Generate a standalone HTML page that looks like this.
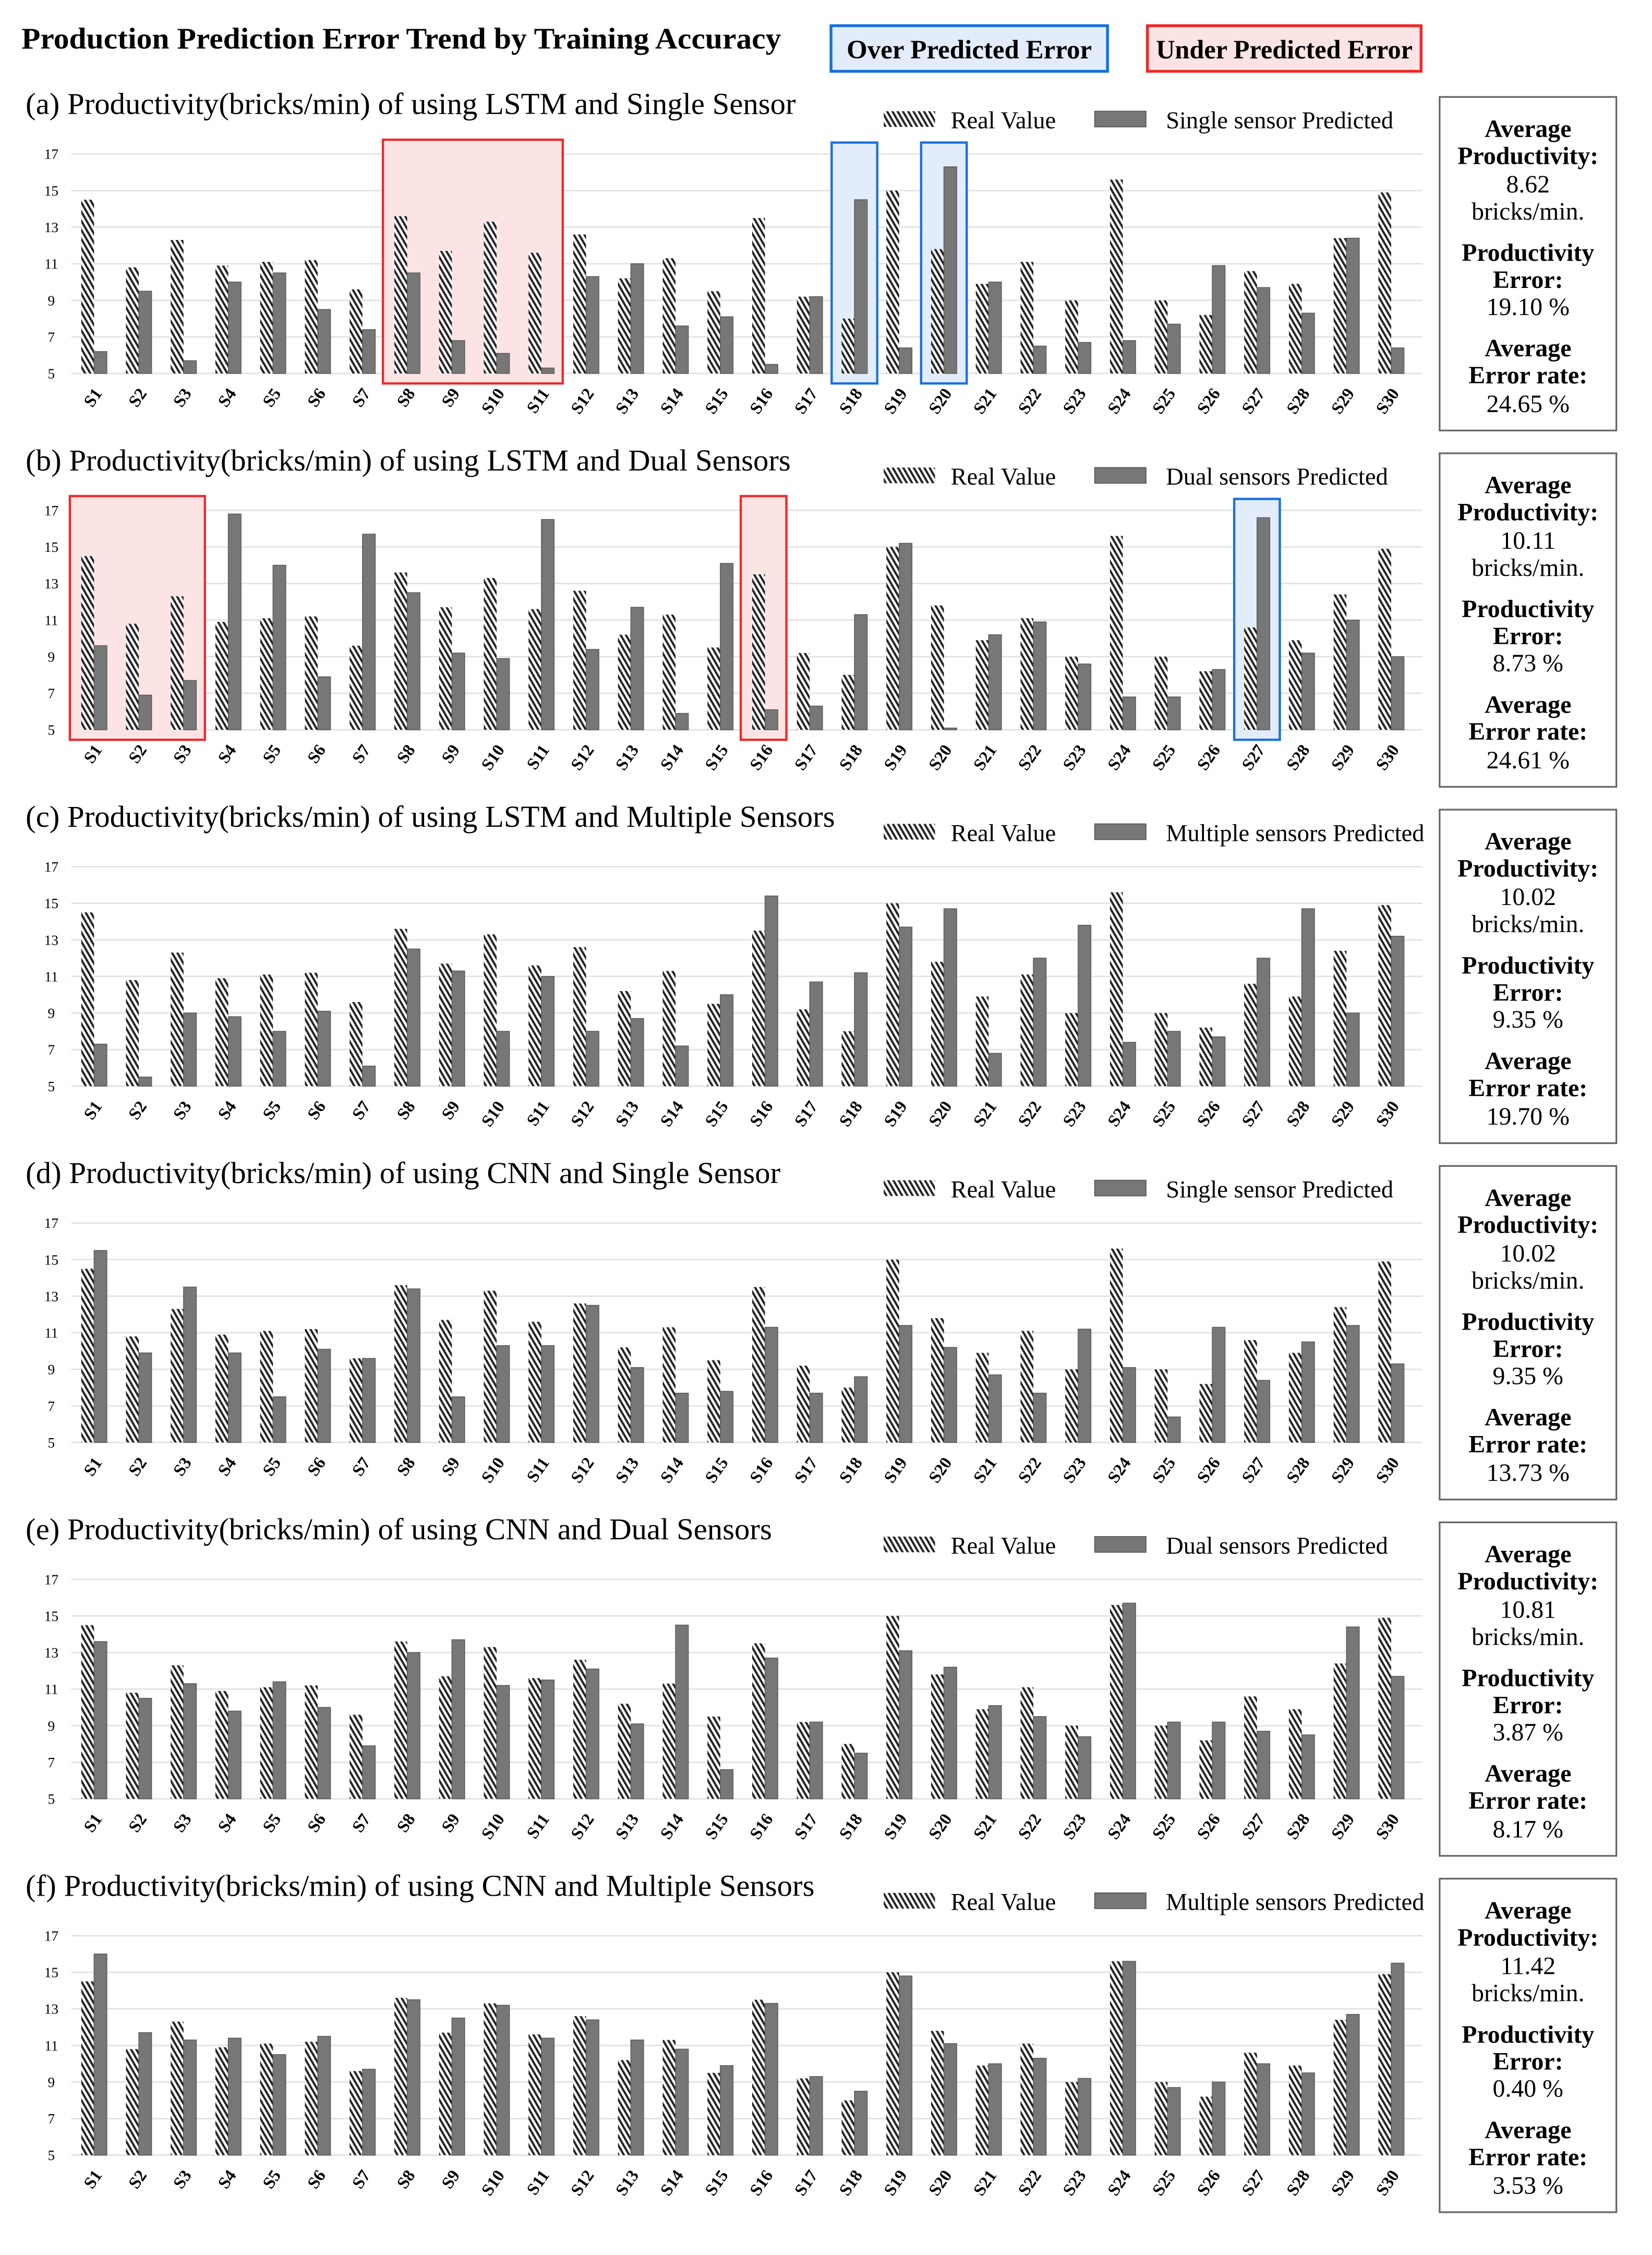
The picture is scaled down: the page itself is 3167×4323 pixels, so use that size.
<!DOCTYPE html>
<html><head><meta charset="utf-8"><style>
html,body{margin:0;padding:0;background:#fff}
svg{display:block}
text{font-family:"Liberation Serif",serif}
</style></head><body>
<svg id="fig" xmlns="http://www.w3.org/2000/svg" width="3167" height="4323" viewBox="0 0 1159 1582">
<defs>
<pattern id="hatch" patternUnits="userSpaceOnUse" width="3.2" height="3.2" patternTransform="rotate(-30)">
<rect width="3.2" height="3.2" fill="#fff"/><rect width="1.5" height="3.2" fill="#222"/>
</pattern>
</defs>
<rect width="1159" height="1582" fill="#fff"/>
<text x="15" y="34" font-size="21" font-weight="bold" textLength="533" lengthAdjust="spacingAndGlyphs">Production Prediction Error Trend by Training Accuracy</text>
<g><rect x="583" y="18" width="194" height="32" fill="#e2ecfb" stroke="#1a6fe0" stroke-width="2"/><text x="680" y="41" font-size="18.5" font-weight="bold" text-anchor="middle" textLength="172" lengthAdjust="spacingAndGlyphs">Over Predicted Error</text></g>
<g><rect x="805" y="18" width="192" height="32" fill="#fde4e4" stroke="#ee2a2a" stroke-width="2"/><text x="901" y="41" font-size="18.5" font-weight="bold" text-anchor="middle" textLength="180" lengthAdjust="spacingAndGlyphs">Under Predicted Error</text></g>
<g id="panels"></g>
</svg>
<script>
const categories = ["S1","S2","S3","S4","S5","S6","S7","S8","S9","S10","S11","S12","S13","S14","S15","S16","S17","S18","S19","S20","S21","S22","S23","S24","S25","S26","S27","S28","S29","S30"];
const yTicks = [5,7,9,11,13,15,17];
const realValues = [14.5,10.8,12.3,10.9,11.1,11.2,9.6,13.6,11.7,13.3,11.6,12.6,10.2,11.3,9.5,13.5,9.2,8.0,15.0,11.8,9.9,11.1,9.0,15.6,9.0,8.2,10.6,9.9,12.4,14.9];
const predA = [6.2,9.5,5.7,10.0,10.5,8.5,7.4,10.5,6.8,6.1,5.3,10.3,11.0,7.6,8.1,5.5,9.2,14.5,6.4,16.3,10.0,6.5,6.7,6.8,7.7,10.9,9.7,8.3,12.4,6.4];
const predB = [9.6,6.9,7.7,16.8,14.0,7.9,15.7,12.5,9.2,8.9,16.5,9.4,11.7,5.9,14.1,6.1,6.3,11.3,15.2,5.1,10.2,10.9,8.6,6.8,6.8,8.3,16.6,9.2,11.0,9.0];
const predC = [7.3,5.5,9.0,8.8,8.0,9.1,6.1,12.5,11.3,8.0,11.0,8.0,8.7,7.2,10.0,15.4,10.7,11.2,13.7,14.7,6.8,12.0,13.8,7.4,8.0,7.7,12.0,14.7,9.0,13.2];
const predD = [15.5,9.9,13.5,9.9,7.5,10.1,9.6,13.4,7.5,10.3,10.3,12.5,9.1,7.7,7.8,11.3,7.7,8.6,11.4,10.2,8.7,7.7,11.2,9.1,6.4,11.3,8.4,10.5,11.4,9.3];
const predE = [13.6,10.5,11.3,9.8,11.4,10.0,7.9,13.0,13.7,11.2,11.5,12.1,9.1,14.5,6.6,12.7,9.2,7.5,13.1,12.2,10.1,9.5,8.4,15.7,9.2,9.2,8.7,8.5,14.4,11.7];
const predF = [16.0,11.7,11.3,11.4,10.5,11.5,9.7,13.5,12.5,13.2,11.4,12.4,11.3,10.8,9.9,13.3,9.3,8.5,14.8,11.1,10.0,10.3,9.2,15.6,8.7,9.0,10.0,9.5,12.7,15.5];
const panelTitles = ["(a) Productivity(bricks/min) of using LSTM and Single Sensor","(b) Productivity(bricks/min) of using LSTM and Dual Sensors","(c) Productivity(bricks/min) of using LSTM and Multiple Sensors","(d) Productivity(bricks/min) of using CNN and Single Sensor","(e) Productivity(bricks/min) of using CNN and Dual Sensors","(f) Productivity(bricks/min) of using CNN and Multiple Sensors"];
const legendLabels = ["Single sensor Predicted","Dual sensors Predicted","Multiple sensors Predicted","Single sensor Predicted","Dual sensors Predicted","Multiple sensors Predicted"];
const avgProd = ["8.62","10.11","10.02","10.02","10.81","11.42"];
const prodErr = ["19.10 %","8.73 %","9.35 %","9.35 %","3.87 %","0.40 %"];
const avgErrRate = ["24.65 %","24.61 %","19.70 %","13.73 %","8.17 %","3.53 %"];
const underBoxes = [[[7,10]],[[0,2],[15,15]],[],[],[],[]];
const overBoxes = [[[17,17],[19,19]],[[26,26]],[],[],[],[]];
const preds = [predA,predB,predC,predD,predE,predF];

const NS="http://www.w3.org/2000/svg";
const root=document.getElementById('panels');
function el(tag,attrs,parent,txt){const e=document.createElementNS(NS,tag);for(const k in attrs)e.setAttribute(k,attrs[k]);if(txt!==undefined)e.textContent=txt;parent.appendChild(e);return e;}
const xc=i=>66+i*31.38;
preds.forEach((pred,p)=>{
  const off=p*250;
  const yScale=v=>262+off-(v-5)*(154/12);
  const g=el('g',{},root);
  
  
  const t=el('text',{x:18,y:80+off,'font-size':21.5},g,panelTitles[p]);
  
  
  const lg=el('g',{},g);
  
  
  el('rect',{x:620,y:78+off,width:36,height:11,fill:'url(#hatch)'},lg);
  el('text',{x:667,y:90+off,'font-size':17},lg,'Real Value');
  el('rect',{x:768,y:78+off,width:36,height:11,fill:'#777',stroke:'#555','stroke-width':0.6},lg);
  el('text',{x:818,y:90+off,'font-size':17},lg,legendLabels[p]);
  yTicks.forEach(v=>{
    const y=yScale(v);
    const gl=el('line',{x1:50,x2:998,y1:y,y2:y,stroke:'#e2e2e2','stroke-width':1},g);
    
    
    const tl=el('text',{x:36,y:y+3.5,'font-size':10,'text-anchor':'middle'},g,String(v));
    
    
  });
  underBoxes[p].forEach(b=>{
    const r=el('rect',{x:xc(b[0])-17,y:98+off,width:xc(b[1])-xc(b[0])+32,height:171,fill:'#fde4e4',stroke:'#ee2a2a','stroke-width':1.6},g);
    
    
  });
  overBoxes[p].forEach(b=>{
    const r=el('rect',{x:xc(b[0])-16,y:100+off,width:xc(b[1])-xc(b[0])+32,height:169,fill:'#e2ecfb',stroke:'#1a6fe0','stroke-width':1.6},g);
    
    
  });
  const y0=yScale(5);
  categories.forEach((c,i)=>{
    const cx=xc(i);
    const yr=yScale(realValues[i]);
    const rb=el('rect',{x:cx-9,y:yr,width:9,height:y0-yr,fill:'url(#hatch)'},g);
    
    
    const yp=yScale(pred[i]);
    const pb=el('rect',{x:cx,y:yp,width:9,height:y0-yp,fill:'#777',stroke:'#555','stroke-width':0.5},g);
    
    
    const xl=el('text',{x:cx+6,y:276+off,'font-size':12,'font-weight':'bold','text-anchor':'end',transform:`rotate(-55 ${cx+6} ${276+off})`},g,c);
    
    
  });
  const sb=el('g',{},g);
  
  
  el('rect',{x:1010,y:68+off,width:124,height:234,fill:'#fff',stroke:'#666','stroke-width':1.2},sb);
  const lines=[['Average',1],['Productivity:',1],[avgProd[p],0],['bricks/min.',0],['Productivity',1],['Error:',1],[prodErr[p],0],['Average',1],['Error rate:',1],[avgErrRate[p],0]];
  const offs=[22,41,61,80,109,128,147,176,195,215];
  lines.forEach((l,k)=>{
    el('text',{x:1072,y:68+off+offs[k]+6,'font-size':17.5,'font-weight':l[1]?'bold':'normal','text-anchor':'middle'},sb,l[0]);
  });
});
</script>
</body></html>
